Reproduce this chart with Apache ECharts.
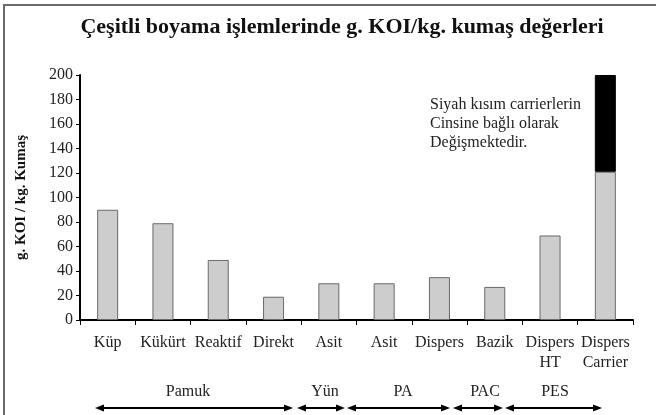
<!DOCTYPE html>
<html>
<head>
<meta charset="utf-8">
<script src="https://cdn.jsdelivr.net/npm/echarts@6/dist/echarts.min.js"></script>
<style>html,body{margin:0;padding:0;background:#fff}#c{width:656px;height:415px}</style>
</head>
<body>
<div id="c"></div>
<script>
var categories = ['Küp', 'Kükürt', 'Reaktif', 'Direkt', 'Asit', 'Asit', 'Dispers', 'Bazik', 'Dispers\nHT', 'Dispers\nCarrier'];
var baseValues = [90, 79, 49, 19, 30, 30, 35, 27, 69, 121];
var carrierValues = ['-', '-', '-', '-', '-', '-', '-', '-', '-', 79];
var yTicks = [0, 20, 40, 60, 80, 100, 120, 140, 160, 180, 200];
var groups = [
  { name: 'Pamuk', x1: 95, x2: 293, lx: 188 },
  { name: 'Yün', x1: 297, x2: 345, lx: 325 },
  { name: 'PA', x1: 347, x2: 450, lx: 403 },
  { name: 'PAC', x1: 453, x2: 503, lx: 485 },
  { name: 'PES', x1: 505, x2: 602, lx: 555 }
];
var noteLines = ['Siyah kısım carrierlerin', 'Cinsine bağlı olarak', 'Değişmektedir.'];

var serif = '"Liberation Serif", "DejaVu Serif", serif';
var chart = echarts.init(document.getElementById('c'));

var graphics = [
  { type: 'rect', shape: { x: 4, y: 5, width: 660, height: 420 }, style: { fill: 'none', stroke: '#6a6a6a', lineWidth: 2 }, z: 100 }
];
var ay = 408;
groups.forEach(function (g) {
  graphics.push({ type: 'line', shape: { x1: g.x1 + 4, y1: ay, x2: g.x2 - 4, y2: ay }, style: { stroke: '#000', lineWidth: 2 } });
  graphics.push({ type: 'polygon', shape: { points: [[g.x1, ay], [g.x1 + 9, ay - 3.5], [g.x1 + 9, ay + 3.5]] }, style: { fill: '#000' } });
  graphics.push({ type: 'polygon', shape: { points: [[g.x2, ay], [g.x2 - 9, ay - 3.5], [g.x2 - 9, ay + 3.5]] }, style: { fill: '#000' } });
  graphics.push({ type: 'text', x: g.lx, y: 392, style: { text: g.name, font: '16px ' + serif, fill: '#222', textAlign: 'center', textVerticalAlign: 'middle' } });
});
noteLines.forEach(function (t, i) {
  graphics.push({ type: 'text', x: 430, y: 105 + i * 19, style: { text: t, font: '16px ' + serif, fill: '#222', textAlign: 'left', textVerticalAlign: 'middle' } });
});

chart.setOption({
  animation: false,
  backgroundColor: '#fff',
  title: {
    text: 'Çeşitli boyama işlemlerinde g. KOI/kg. kumaş değerleri',
    left: 337, top: 11, textAlign: 'center',
    textStyle: { fontFamily: serif, fontWeight: 'bold', fontSize: 22, color: '#111' }
  },
  grid: { left: 80, right: 23, top: 75, bottom: 95 },
  xAxis: {
    type: 'category',
    data: categories,
    axisLine: { lineStyle: { color: '#000', width: 2 } },
    axisTick: { show: true, length: 5, lineStyle: { color: '#000', width: 1 } },
    axisLabel: { interval: 0, fontFamily: serif, fontSize: 16, color: '#222', margin: 13, lineHeight: 20, verticalAlign: 'top' }
  },
  yAxis: {
    type: 'value', min: 0, max: 200, interval: 20,
    name: 'g. KOI / kg. Kumaş', nameLocation: 'middle', nameGap: 51, nameRotate: 90,
    nameTextStyle: { fontFamily: serif, fontWeight: 'bold', fontSize: 15, color: '#111' },
    axisLine: { show: true, lineStyle: { color: '#000', width: 2 } },
    axisTick: { show: true, length: 4, lineStyle: { color: '#000' } },
    splitLine: { show: false },
    axisLabel: { fontFamily: serif, fontSize: 16, color: '#222', margin: 7,
      formatter: function (v) { return yTicks.indexOf(v) >= 0 ? String(v) : ''; } }
  },
  series: [
    { type: 'bar', stack: 's', data: baseValues, barWidth: '38%',
      itemStyle: { color: '#cdcdcd', borderColor: '#6a6a6a', borderWidth: 1 } },
    { type: 'bar', stack: 's', data: carrierValues, barWidth: '38%',
      itemStyle: { color: '#000', borderColor: '#000', borderWidth: 1 } }
  ],
  graphic: graphics
});
</script>
</body>
</html>
